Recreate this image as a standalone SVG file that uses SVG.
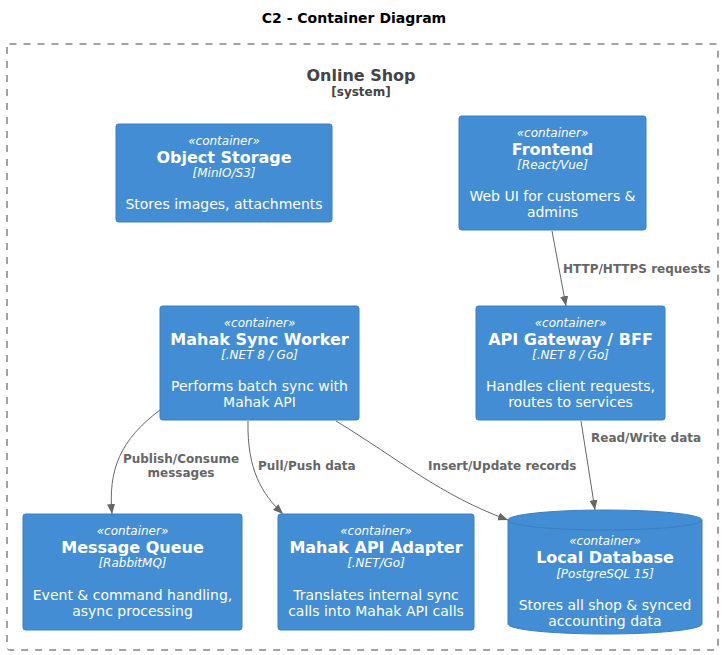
<svg xmlns="http://www.w3.org/2000/svg" width="722" height="655" viewBox="0 0 722 655">
<defs>
<style>
text{font-family:"DejaVu Sans","Liberation Sans",sans-serif;}
.box{fill:#438DD5;stroke:#3C7FC0;stroke-width:1;}
.st{fill:#FFFFFF;font-size:12px;font-style:italic;text-anchor:middle;}
.nm{fill:#FFFFFF;font-size:16px;font-weight:bold;text-anchor:middle;}
.tc{fill:#FFFFFF;font-size:12px;font-style:italic;text-anchor:middle;}
.ds{fill:#FFFFFF;font-size:14px;text-anchor:middle;}
.ln{fill:none;stroke:#666666;stroke-width:1;marker-end:url(#ah);}
.lb{fill:#666666;font-size:12px;font-weight:bold;}
</style>
<marker id="ah" viewBox="0 0 10 10" refX="10" refY="5" markerWidth="10" markerHeight="10" markerUnits="userSpaceOnUse" orient="auto">
<path d="M0,1 L10,5 L0,9 z" fill="#666666"/>
</marker>
</defs>
<rect width="722" height="655" fill="#FFFFFF"/>
<text x="354" y="23" text-anchor="middle" font-size="14" font-weight="bold" fill="#000000">C2 - Container Diagram</text>
<g id="boundary">
<rect x="7" y="44" width="711" height="606" rx="2.5" fill="none" stroke="#444444" stroke-width="1" stroke-dasharray="7,7"/>
<text x="361" y="81" text-anchor="middle" font-size="16" font-weight="bold" fill="#444444">Online Shop</text>
<text x="361" y="96" text-anchor="middle" font-size="12" font-weight="bold" fill="#444444">[system]</text>
</g>
<g id="connectors">
<path class="ln" d="M552,231 L566,306"/>
<path class="ln" d="M581,421 L595,510"/>
<path class="ln" d="M160,410 C120,440 108,470 112,514"/>
<path class="ln" d="M248,421 C247,470 262,494 283,514"/>
<path class="ln" d="M336,421 C400,460 440,495 508,520"/>
<text class="lb" x="563" y="273">HTTP/HTTPS requests</text>
<text class="lb" x="591" y="442">Read/Write data</text>
<text class="lb" x="181" y="463" text-anchor="middle">Publish/Consume</text>
<text class="lb" x="181" y="477" text-anchor="middle">messages</text>
<text class="lb" x="258" y="470">Pull/Push data</text>
<text class="lb" x="428" y="470">Insert/Update records</text>
</g>
<g id="object-storage">
<rect class="box" x="116" y="124" width="216" height="98" rx="2.5"/>
<text class="st" x="224" y="145">«container»</text>
<text class="nm" x="224" y="163">Object Storage</text>
<text class="tc" x="224" y="177">[MinIO/S3]</text>
<text class="ds" x="224" y="209">Stores images, attachments</text>
</g>
<g id="frontend">
<rect class="box" x="459" y="116" width="187" height="114" rx="2.5"/>
<text class="st" x="552.5" y="137">«container»</text>
<text class="nm" x="552.5" y="155">Frontend</text>
<text class="tc" x="552.5" y="169">[React/Vue]</text>
<text class="ds" x="552.5" y="201">Web UI for customers &amp;</text>
<text class="ds" x="552.5" y="217">admins</text>
</g>
<g id="sync-worker">
<rect class="box" x="160" y="306" width="199" height="114" rx="2.5"/>
<text class="st" x="259.5" y="327">«container»</text>
<text class="nm" x="259.5" y="345">Mahak Sync Worker</text>
<text class="tc" x="259.5" y="359">[.NET 8 / Go]</text>
<text class="ds" x="259.5" y="391">Performs batch sync with</text>
<text class="ds" x="259.5" y="407">Mahak API</text>
</g>
<g id="api-gateway">
<rect class="box" x="476" y="306" width="189" height="114" rx="2.5"/>
<text class="st" x="570.5" y="327">«container»</text>
<text class="nm" x="570.5" y="345">API Gateway / BFF</text>
<text class="tc" x="570.5" y="359">[.NET 8 / Go]</text>
<text class="ds" x="570.5" y="391">Handles client requests,</text>
<text class="ds" x="570.5" y="407">routes to services</text>
</g>
<g id="message-queue">
<rect class="box" x="23" y="514" width="219" height="116" rx="2.5"/>
<text class="st" x="132.5" y="535">«container»</text>
<text class="nm" x="132.5" y="553">Message Queue</text>
<text class="tc" x="132.5" y="567">[RabbitMQ]</text>
<text class="ds" x="132.5" y="600">Event &amp; command handling,</text>
<text class="ds" x="132.5" y="616">async processing</text>
</g>
<g id="mahak-adapter">
<rect class="box" x="278" y="514" width="196" height="116" rx="2.5"/>
<text class="st" x="376" y="535">«container»</text>
<text class="nm" x="376" y="553">Mahak API Adapter</text>
<text class="tc" x="376" y="567">[.NET/Go]</text>
<text class="ds" x="376" y="600">Translates internal sync</text>
<text class="ds" x="376" y="616">calls into Mahak API calls</text>
</g>
<g id="local-database">
<path class="box" d="M508,520 A97,10 0 0 1 702,520 L702,624 A97,10 0 0 1 508,624 Z"/>
<path d="M508,520 A97,10 0 0 0 702,520" fill="none" stroke="#3C7FC0" stroke-width="1"/>
<text class="st" x="605" y="545">«container»</text>
<text class="nm" x="605" y="563">Local Database</text>
<text class="tc" x="605" y="578">[PostgreSQL 15]</text>
<text class="ds" x="605" y="610">Stores all shop &amp; synced</text>
<text class="ds" x="605" y="626">accounting data</text>
</g>
</svg>
